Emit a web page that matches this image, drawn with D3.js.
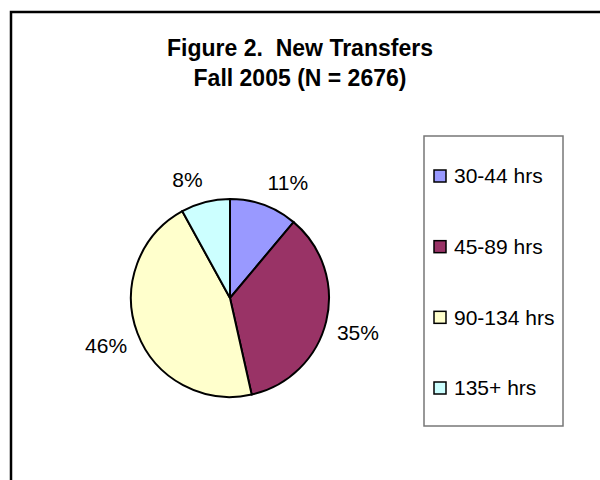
<!DOCTYPE html>
<html>
<head>
<meta charset="utf-8">
<script src="https://cdn.jsdelivr.net/npm/d3@7"></script>
<style>
  body { margin: 0; background: #fff; }
  svg text { font-family: Arial, "Liberation Sans", sans-serif; fill: #000; }
</style>
</head>
<body>
<div id="svgDiv"></div>
<script>
// chart data
const categories = ['30-44 hrs', '45-89 hrs', '90-134 hrs', '135+ hrs']
const students = [297, 947, 1218, 214]   // N = 2676
const colors = ['#9999FF', '#993366', '#FFFFCC', '#CCFFFF']
const titleLines = ['Figure 2.  New Transfers', 'Fall 2005 (N = 2676)']

var width = 600,
    height = 480;

var svg = d3.select('#svgDiv')
    .append('svg')
        .attr('width', width)
        .attr('height', height);

// outer chart frame (runs off the right and bottom edges)
svg.append('rect')
    .attr('x', 11)
    .attr('y', 12)
    .attr('width', 640)
    .attr('height', 520)
    .style('fill', '#fff')
    .style('stroke', '#000')
    .style('stroke-width', 2.5);

// title
svg.append('text')
    .attr('text-anchor', 'middle')
    .attr('xml:space', 'preserve')
    .style('font-weight', 'bold')
    .style('font-size', '23px')
    .selectAll('tspan')
    .data(titleLines)
    .join('tspan')
        .attr('x', 300)
        .attr('y', (d, i) => 56 + i * 30)
        .text(d => d);

// pie
var cx = 230, cy = 298, radius = 99;
var total = d3.sum(students);

var pie = d3.pie().sort(null).value(d => d)
var arcs = pie(students)
var arc = d3.arc().innerRadius(0).outerRadius(radius)
// labels: the corner of the label box nearest the pie sits on this ring
var labelArc = d3.arc().innerRadius(radius + 11).outerRadius(radius + 11)

var g = svg.append('g')
    .attr('transform', 'translate(' + cx + ',' + cy + ')');

g.selectAll('path')
    .data(arcs)
    .join('path')
    .attr('d', arc)
    .style('fill', (d, i) => colors[i])
    .style('stroke', '#000')
    .style('stroke-width', 2);

g.selectAll('.pieLabel')
    .data(arcs)
    .join('text')
    .classed('pieLabel', true)
    .attr('x', d => labelArc.centroid(d)[0])
    .attr('y', d => labelArc.centroid(d)[1])
    .attr('text-anchor', d => labelArc.centroid(d)[0] >= 0 ? 'start' : 'end')
    .attr('dy', d => labelArc.centroid(d)[1] < 0 ? '-0.22em' : '0.78em')
    .style('font-size', '21px')
    .text(d => Math.round(d.value / total * 100) + '%');

// legend
var legend = svg.append('g');
legend.append('rect')
    .attr('x', 424)
    .attr('y', 136)
    .attr('width', 139)
    .attr('height', 290)
    .style('fill', '#fff')
    .style('stroke', '#777')
    .style('stroke-width', 1.5);

var ly = d3.scalePoint()
    .domain(categories)
    .range([176, 388]);

legend.selectAll('.swatch')
    .data(categories)
    .join('rect')
    .classed('swatch', true)
    .attr('x', 434)
    .attr('y', d => ly(d) - 6)
    .attr('width', 12)
    .attr('height', 12)
    .style('fill', (d, i) => colors[i])
    .style('stroke', '#000')
    .style('stroke-width', 1.5);

legend.selectAll('.legendText')
    .data(categories)
    .join('text')
    .classed('legendText', true)
    .attr('x', 454)
    .attr('y', ly)
    .attr('dy', '0.35em')
    .style('font-size', '21px')
    .text(d => d);
</script>
</body>
</html>
